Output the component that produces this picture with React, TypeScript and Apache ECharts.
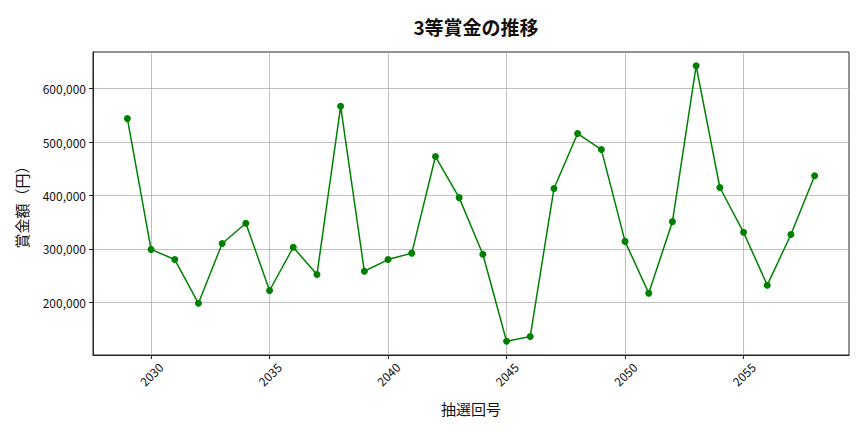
import { useEffect, useRef } from "react";
import * as echarts from "echarts";

// 抽選回号 and 3等賞金 (円)
const draws = [
  2029, 2030, 2031, 2032, 2033, 2034, 2035, 2036, 2037, 2038,
  2039, 2040, 2041, 2042, 2043, 2044, 2045, 2046, 2047, 2048,
  2049, 2050, 2051, 2052, 2053, 2054, 2055, 2056, 2057, 2058,
];
const prizes = [
  544000, 299000, 280000, 198000, 310000, 348000, 222000, 303000, 252000, 567000,
  258000, 280000, 292000, 473000, 396000, 290000, 127000, 136000, 413000, 516000,
  486000, 314000, 217000, 351000, 643000, 415000, 331000, 232000, 327000, 437000,
];
const xTicks = [2030, 2035, 2040, 2045, 2050, 2055];
const yTicks = [200000, 300000, 400000, 500000, 600000];

const FONT = "'Noto Sans CJK JP', 'Noto Sans', sans-serif";

// matplotlib style 5% padding on both ends
function padded(vals: number[]) {
  const lo = Math.min(...vals);
  const hi = Math.max(...vals);
  const m = (hi - lo) * 0.05;
  return [lo - m, hi + m];
}

export default function App() {
  const chartRef = useRef<HTMLDivElement>(null);

  useEffect(() => {
    if (!chartRef.current) return;
    const chart = echarts.init(chartRef.current, undefined, { renderer: "svg" });
    const [xMin, xMax] = padded(draws);
    const [yMin, yMax] = padded(prizes);

    chart.setOption({
      animation: false,
      backgroundColor: "#ffffff",
      title: {
        text: "3等賞金の推移",
        left: 471,
        top: 12,
        textAlign: "center",
        textStyle: { fontFamily: FONT, fontSize: 19, fontWeight: "bold", color: "#111" },
      },
      grid: {
        left: 93,
        top: 52,
        right: 15,
        bottom: 77,
        show: true,
        borderColor: "#222",
        borderWidth: 1,
      },
      xAxis: {
        type: "value",
        min: xMin,
        max: xMax,
        name: "抽選回号",
        nameLocation: "middle",
        nameGap: 46,
        nameTextStyle: { fontFamily: FONT, fontSize: 15, color: "#111" },
        axisLine: { show: true, onZero: false, lineStyle: { color: "#222" } },
        axisTick: { show: true, length: 4, customValues: xTicks, lineStyle: { color: "#222" } },
        axisLabel: {
          customValues: xTicks,
          rotate: 45,
          align: "center",
          verticalAlign: "middle",
          fontFamily: FONT,
          fontSize: 12,
          color: "#111",
          margin: 19,
          formatter: (v: number) => String(v),
        },
        splitLine: { show: true, lineStyle: { color: "#b0b0b0", width: 0.8 } },
      },
      yAxis: {
        type: "value",
        min: yMin,
        max: yMax,
        name: "賞金額（円）",
        nameLocation: "middle",
        nameGap: 64,
        nameTextStyle: { fontFamily: FONT, fontSize: 15, color: "#111" },
        axisLine: { show: true, lineStyle: { color: "#222" } },
        axisTick: { show: true, length: 4, customValues: yTicks, lineStyle: { color: "#222" } },
        axisLabel: {
          customValues: yTicks,
          fontFamily: FONT,
          fontSize: 12,
          color: "#111",
          margin: 7,
          formatter: (v: number) => v.toLocaleString("en-US"),
        },
        splitLine: { show: true, lineStyle: { color: "#b0b0b0", width: 0.8 } },
      },
      series: [
        {
          type: "line",
          data: draws.map((d, i) => [d, prizes[i]]),
          symbol: "circle",
          symbolSize: 7,
          lineStyle: { color: "#008000", width: 1.5 },
          itemStyle: { color: "#008000" },
        },
      ],
    });

    return () => chart.dispose();
  }, []);

  return <div ref={chartRef} style={{ width: 864, height: 432, margin: -8 }} />;
}
